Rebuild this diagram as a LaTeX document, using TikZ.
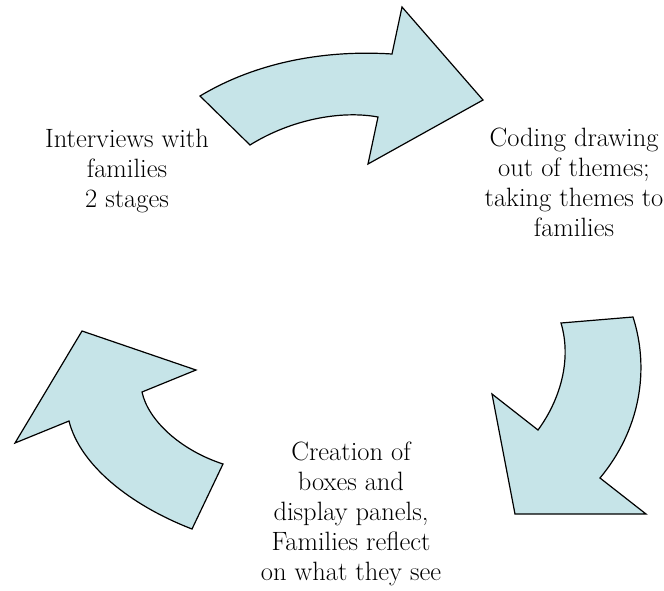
\documentclass[tikz,border=0pt]{standalone}
\usepackage{fontspec}
\definecolor{arrowfill}{RGB}{198,228,232}
\begin{document}
\begin{tikzpicture}[x=1pt,y=-1pt,
  cyclearrow/.style={draw=black,fill=arrowfill,line width=1.2pt,line join=miter},
  stage/.style={align=center,inner sep=0pt,anchor=north,
    font=\fontsize{26.5}{30}\selectfont}]
  \useasboundingbox (0,0) rectangle (664,590);
  \draw[cyclearrow] (200,96) .. controls (260,60) and (330,50) .. (392,54)
    -- (402,7) -- (483,100) -- (368,164) -- (378,117)
    .. controls (340,110) and (290,120) .. (250,145) -- cycle;
  \draw[cyclearrow] (561,323) -- (633,317)
    .. controls (650,370) and (640,430) .. (600,478)
    -- (646,514) -- (515,514) -- (492,394) -- (538,430)
    .. controls (560,400) and (572,360) .. (561,323) -- cycle;
  \draw[cyclearrow] (82,331) -- (196,370) -- (142,392)
    .. controls (148,420) and (180,450) .. (223,464)
    -- (192,529) .. controls (130,505) and (80,465) .. (69,421)
    -- (15,443) -- cycle;
  \node[stage] (interviews) at (127,128.5) {Interviews with\\families\\2 stages};
  \node[stage] (coding) at (574,128) {Coding drawing\\out of themes;\\taking themes to\\families};
  \node[stage] (creation) at (351,442) {Creation of\\boxes and\\display panels,\\Families reflect\\on what they see};
\end{tikzpicture}
\end{document}
